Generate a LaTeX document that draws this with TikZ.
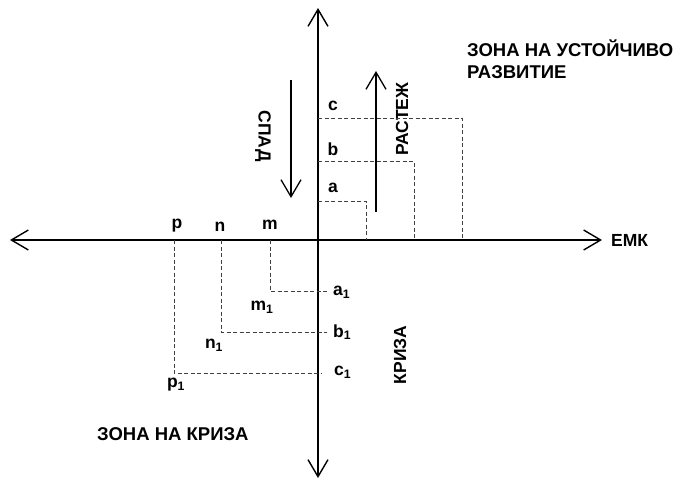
\documentclass[tikz,border=0pt]{standalone}
\usepackage{fontspec}
\setmainfont{Liberation Sans}
\usetikzlibrary{arrows.meta}

\begin{document}
\begin{tikzpicture}[x=1pt,y=-1pt,
    axis/.style={line width=1.6pt,
      {Straight Barb[length=17pt,width=20pt,line width=1.4pt]}-{Straight Barb[length=17pt,width=20pt,line width=1.4pt]}},
    trend/.style={line width=1.4pt,
      -{Straight Barb[length=17pt,width=20pt,line width=1.3pt]}},
    guide/.style={black!75,line width=0.8pt,dash pattern=on 4pt off 2.5pt},
    lbl/.style={font=\fontsize{17.5}{19}\selectfont\bfseries,inner sep=1pt},
    zone/.style={font=\fontsize{18.5}{22}\selectfont\bfseries,align=left,inner sep=0pt}]
  \useasboundingbox (0,0) rectangle (676,480);

  % axes
  \coordinate (O) at (318,240);
  \coordinate (xl) at (10,240);
  \coordinate (xr) at (602,240);
  \coordinate (yt) at (318,8);
  \coordinate (yb) at (318,478);
  \draw[axis] (xl) -- (xr);
  \draw[axis] (yb) -- (yt);
  \node[lbl,anchor=west] (emk) at (610,240) {ЕМК};

  % spad / rastezh
  \coordinate (sd1) at (291,80);
  \coordinate (sd2) at (291,198);
  \draw[trend] (sd1) -- (sd2);
  \node[lbl,rotate=-90] (spad) at (263,136) {СПАД};
  \coordinate (rs1) at (376,212);
  \coordinate (rs2) at (376,71);
  \draw[trend] (rs1) -- (rs2);
  \node[lbl,rotate=90] (rast) at (402,119) {РАСТЕЖ};

  % upper part
  \node[lbl] (c) at (333,106) {c};
  \node[lbl] (b) at (333,149) {b};
  \node[lbl] (a) at (333,188) {a};
  \coordinate (cc) at (462,118);
  \coordinate (bc) at (414,161);
  \coordinate (ac) at (366,201);
  \draw[guide] (O |- cc) -- (cc) -- (cc |- O);
  \draw[guide] (O |- bc) -- (bc) -- (bc |- O);
  \draw[guide] (O |- ac) -- (ac) -- (ac |- O);

  % lower part
  \node[lbl] (p) at (177,226) {p};
  \node[lbl] (n) at (220,227) {n};
  \node[lbl] (m) at (270,225) {m};
  \node[lbl,anchor=west] (a1) at (332,292) {a\textsubscript{1}};
  \node[lbl,anchor=west] (b1) at (332,332) {b\textsubscript{1}};
  \node[lbl,anchor=west] (c1) at (333,372) {c\textsubscript{1}};
  \node[lbl] (m1) at (262,307) {m\textsubscript{1}};
  \node[lbl] (n1) at (214,345) {n\textsubscript{1}};
  \node[lbl] (p1) at (176,385) {p\textsubscript{1}};
  \coordinate (mc) at (270,291);
  \coordinate (nc) at (221,332);
  \coordinate (pc) at (174,373);
  \coordinate (me) at (327,291);
  \coordinate (ne) at (327,332);
  \coordinate (pe) at (322,373);
  \draw[guide] (mc |- O) -- (mc) -- (me);
  \draw[guide] (nc |- O) -- (nc) -- (ne);
  \draw[guide] (pc |- O) -- (pc) -- (pe);

  % zones
  \node[zone,anchor=north west] (zu) at (467,40) {ЗОНА НА УСТОЙЧИВО\\РАЗВИТИЕ};
  \node[lbl,rotate=90] (kriza) at (400,355) {КРИЗА};
  \node[zone,anchor=west] (zk) at (97,434) {ЗОНА НА КРИЗА};
\end{tikzpicture}
\end{document}
